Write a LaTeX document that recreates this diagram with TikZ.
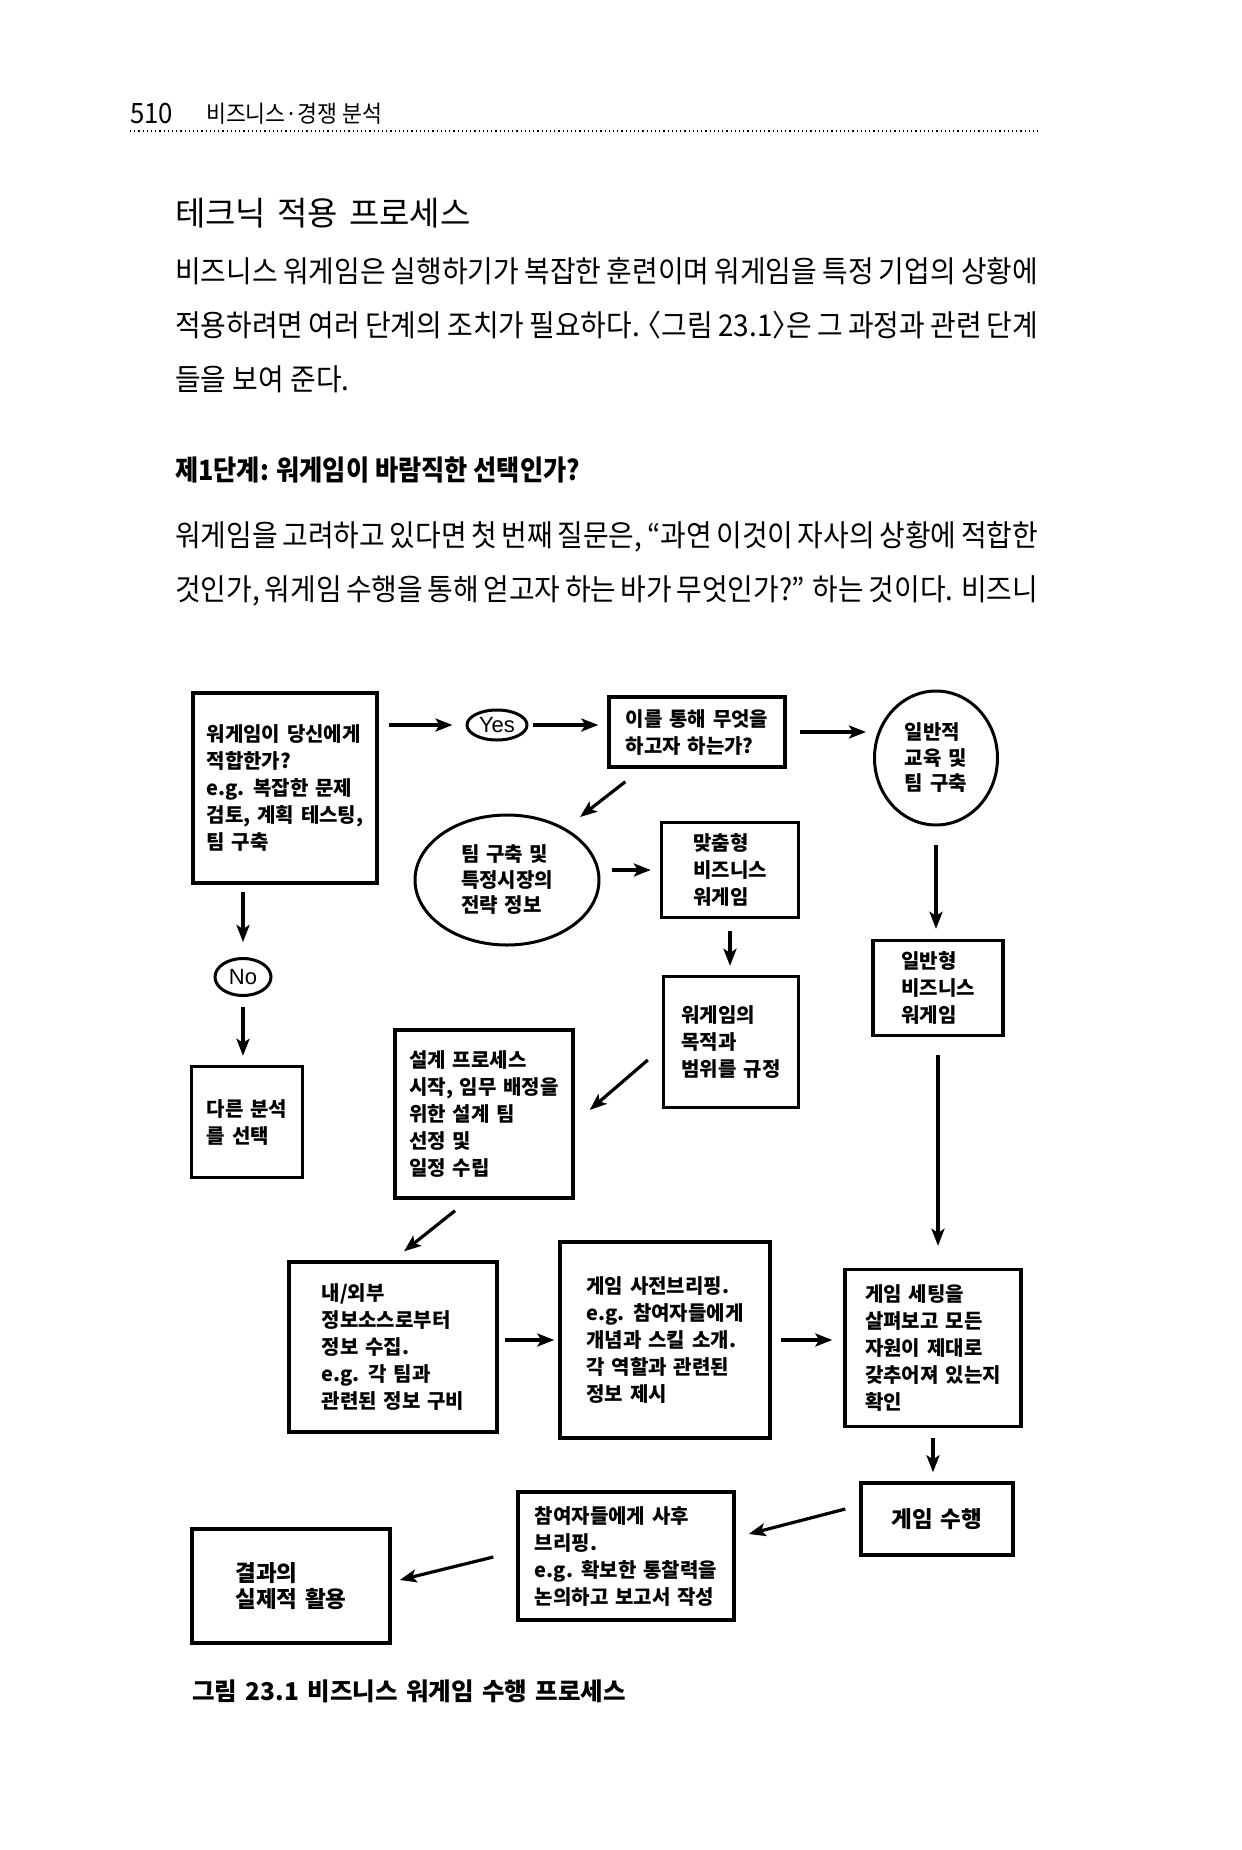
\documentclass[tikz,border=0pt]{standalone}
\usepackage{fontspec}
\setmainfont{Noto Sans CJK KR}
\newfontfamily\headfont[FakeStretch=0.92]{Noto Sans CJK KR}
\newfontfamily\titlefont{Noto Sans CJK KR}
\newfontfamily\bodyfont[FakeStretch=0.93]{Noto Sans CJK KR}
\newfontfamily\stepfont[FakeStretch=0.9]{Noto Sans CJK KR}
\newfontfamily\chartfont[WordSpace=2]{Noto Sans CJK KR}
\newfontfamily\capfont[WordSpace=1.5]{Noto Sans CJK KR}
\newfontfamily\yesnofont{Liberation Sans}
\newcommand\halfbr[1]{{\addfontfeature{RawFeature=+halt}#1}}
\usetikzlibrary{shapes.geometric,arrows.meta}
\tikzset{
  box/.style={draw, line width=3.4pt, align=left, inner sep=0pt,
    font=\chartfont\bfseries\fontsize{20}{27}\selectfont},
  oval/.style={ellipse, draw, line width=3pt, align=left, inner sep=0pt,
    font=\chartfont\bfseries\fontsize{20}{25.5}\selectfont},
  answer/.style={ellipse, draw, line width=3pt, inner sep=0pt,
    font=\yesnofont\fontsize{22}{24}\selectfont},
  arr/.style={line width=3.2pt, -{Stealth[length=17pt,width=13pt,inset=4pt]}},
}
\begin{document}
\begin{tikzpicture}[x=1pt,y=-1pt]
    \path[fill=white] (0,0) rectangle (1242,1850);
    \useasboundingbox (0,0) rectangle (1242,1850);
    % page head and text
    \node[anchor=base west, inner sep=0pt, font=\headfont\fontsize{28}{30}\selectfont] (pagenum) at (130,123) {510};
    \node[anchor=base west, inner sep=0pt, font=\headfont\fontsize{23.5}{26}\selectfont] (runhead) at (206,122) {비즈니스·경쟁 분석};
    \draw[line width=1.2pt, dash pattern=on 1.2pt off 3pt] (130,131) -- (1038,131);
    \node[anchor=base west, inner sep=0pt, font=\titlefont\fontsize{33}{36}\selectfont] (title) at (175,225) {테크닉 적용 프로세스};
    \node[anchor=base west, inner sep=0pt, text width=863pt, align=justify, font=\bodyfont\fontsize{30}{54}\selectfont] (para1) at (175,282)
      {비즈니스 워게임은 실행하기가 복잡한 훈련이며 워게임을 특정 기업의 상황에\linebreak
       적용하려면 여러 단계의 조치가 필요하다. \halfbr{〈}그림 23.1\halfbr{〉}은 그 과정과 관련 단계\linebreak
       들을 보여 준다.};
    \node[anchor=base west, inner sep=0pt, font=\stepfont\bfseries\fontsize{28}{30}\selectfont] (step1) at (175,480) {제1단계: 워게임이 바람직한 선택인가?};
    \node[anchor=base west, inner sep=0pt, text width=863pt, align=justify, font=\bodyfont\fontsize{30}{54}\selectfont] (para2) at (175,546)
      {\parfillskip=0pt 워게임을 고려하고 있다면 첫 번째 질문은, “과연 이것이 자사의 상황에 적합한\linebreak
       것인가, 워게임 수행을 통해 얻고자 하는 바가 무엇인가?” 하는 것이다. 비즈니};

    % flow chart
    \node[box, minimum width=184pt, minimum height=190pt] (suit) at (285,788)
      {워게임이 당신에게\\적합한가?\\e.g. 복잡한 문제\\검토, 계획 테스팅,\\팀 구축};
    \node[answer, minimum width=60pt, minimum height=30pt] (yes) at (497,725) {Yes};
    \node[box, minimum width=176pt, minimum height=70pt] (goal) at (697,732)
      {이를 통해 무엇을\\하고자 하는가?};
    \node[oval, minimum width=123pt, minimum height=134pt] (general) at (936,758) {일반적\\교육 및\\팀 구축};
    \node[oval, minimum width=184pt, minimum height=130pt] (market) at (507,880) {팀 구축 및\\특정시장의\\전략 정보};
    \node[box, minimum width=137pt, minimum height=95pt] (tailored) at (730,870) {맞춤형\\비즈니스\\워게임};
    \node[box, minimum width=135pt, minimum height=131pt] (scope) at (731,1042) {워게임의\\목적과\\범위를 규정};
    \node[box, minimum width=130pt, minimum height=95pt] (generic) at (938,988) {일반형\\비즈니스\\워게임};
    \node[answer, minimum width=56pt, minimum height=37pt] (no) at (243,977) {No};
    \node[box, minimum width=111pt, minimum height=111pt] (other) at (247,1122) {다른 분석\\를 선택};
    \node[box, minimum width=178pt, minimum height=168pt] (design) at (484,1114)
      {설계 프로세스\\시작, 임무 배정을\\위한 설계 팀\\선정 및\\일정 수립};
    \node[box, minimum width=208pt, minimum height=170pt] (collect) at (393,1347)
      {내/외부\\정보소스로부터\\정보 수집.\\e.g. 각 팀과\\관련된 정보 구비};
    \node[box, minimum width=210pt, minimum height=196pt] (prebrief) at (665,1340)
      {게임 사전브리핑.\\e.g. 참여자들에게\\개념과 스킬 소개.\\각 역할과 관련된\\정보 제시};
    \node[box, minimum width=176pt, minimum height=157pt] (check) at (933,1348)
      {게임 세팅을\\살펴보고 모든\\자원이 제대로\\갖추어져 있는지\\확인};
    \node[box, minimum width=152pt, minimum height=72pt, font=\chartfont\bfseries\fontsize{22.5}{26.7}\selectfont] (run) at (937,1519) {게임 수행};
    \node[box, minimum width=216pt, minimum height=128pt] (debrief) at (626,1556)
      {참여자들에게 사후\\브리핑.\\e.g. 확보한 통찰력을\\논의하고 보고서 작성};
    \node[box, minimum width=198pt, minimum height=114pt, font=\chartfont\bfseries\fontsize{22.5}{26.7}\selectfont] (apply) at (291,1586) {결과의\\실제적 활용};
    \node[anchor=base west, inner sep=0pt, font=\capfont\bfseries\fontsize{24.5}{27}\selectfont] (caption) at (192,1700)
      {그림 23.1 비즈니스 워게임 수행 프로세스};

    % connectors
    \draw[arr, shorten <=10pt, shorten >=13pt] (suit.east |- yes) -- (yes);
    \draw[arr, shorten <=4pt, shorten >=9pt] (yes) -- (yes -| goal.west);
    \draw[arr, shorten <=13pt, shorten >=7pt] (goal.east) -- (goal.east -| general.west);
    \draw[arr] ([shift={(18,13)}]goal.south west) -- ([shift={(73,-63)}]market.center);
    \draw[arr, shorten <=11pt, shorten >=9pt] (tailored.west -| market.east) -- (tailored.west);
    \draw[arr, shorten <=12pt, shorten >=9pt] (tailored.south) -- (tailored.south |- scope.north);
    \draw[arr] ([shift={(-14,18)}]scope.west) -- ([shift={(15,-4)}]design.east);
    \draw[arr, shorten <=18pt, shorten >=10pt] (general.south) -- (general.south |- generic.north);
    \draw[arr, shorten <=18pt, shorten >=22pt] (generic.south) -- (generic.south |- check.north);
    \draw[arr, shorten <=7pt, shorten >=15pt] (no |- suit.south) -- (no);
    \draw[arr, shorten <=10pt, shorten >=9pt] (no) -- (no |- other.north);
    \draw[arr] ([shift={(-29,11)}]design.south) -- ([shift={(11,-9)}]collect.north);
    \draw[arr, shorten <=6pt, shorten >=4pt] (prebrief.west -| collect.east) -- (prebrief.west);
    \draw[arr, shorten <=9pt, shorten >=11pt] (prebrief.east) -- (prebrief.east -| check.west);
    \draw[arr, shorten <=10pt, shorten >=9pt] (check.south) -- (check.south |- run.north);
    \draw[arr] ([shift={(-14,-10)}]run.west) -- ([shift={(13,-22)}]debrief.east);
    \draw[arr] ([shift={(-23,1)}]debrief.west) -- ([shift={(8,-6)}]apply.east);
\end{tikzpicture}
\end{document}
